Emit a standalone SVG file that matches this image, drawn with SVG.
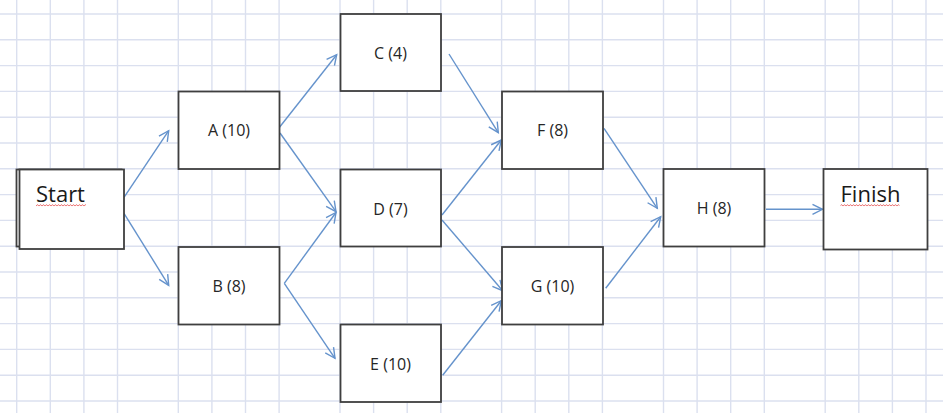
<svg xmlns="http://www.w3.org/2000/svg" width="943" height="413" viewBox="0 0 943 413">
  <style>
    .grid line { stroke: #dbe0ef; stroke-width: 1.4; }
    .box { fill: #ffffff; stroke: #3f3f3f; stroke-width: 1.8; }
    .lbl { font-family: "Open Sans", "Liberation Sans", sans-serif; font-size: 16px; fill: #262626; text-anchor: middle; }
    .big { font-family: "Open Sans", "Liberation Sans", sans-serif; font-size: 22px; fill: #1a1a1a; }
    .conn line { stroke: #6593cc; stroke-width: 1.4; fill: none; marker-end: url(#arr); }
  </style>
  <defs>
    <marker id="arr" markerUnits="userSpaceOnUse" markerWidth="14" markerHeight="14" viewBox="-12 -7 14 14" refX="0" refY="0" orient="auto">
      <path d="M-10,-5 L0,0 L-10,5" fill="none" stroke="#6593cc" stroke-width="1.4"/>
    </marker>
    <pattern id="squig" patternUnits="userSpaceOnUse" x="0" y="204" width="3" height="3">
      <path d="M0,2.2 L1.5,0.6 L3,2.2" fill="none" stroke="#e02a2a" stroke-width="0.7"/>
    </pattern>
  </defs>
  <rect x="0" y="0" width="943" height="413" fill="#ffffff"/>
  <g class="grid">
    <line x1="16.7" y1="0" x2="16.7" y2="413"/>
    <line x1="50.3" y1="0" x2="50.3" y2="413"/>
    <line x1="83.9" y1="0" x2="83.9" y2="413"/>
    <line x1="117.5" y1="0" x2="117.5" y2="413"/>
    <line x1="178.3" y1="0" x2="178.3" y2="413"/>
    <line x1="211.9" y1="0" x2="211.9" y2="413"/>
    <line x1="245.5" y1="0" x2="245.5" y2="413"/>
    <line x1="279.1" y1="0" x2="279.1" y2="413"/>
    <line x1="340" y1="0" x2="340" y2="413"/>
    <line x1="373.6" y1="0" x2="373.6" y2="413"/>
    <line x1="407.2" y1="0" x2="407.2" y2="413"/>
    <line x1="440.8" y1="0" x2="440.8" y2="413"/>
    <line x1="501.6" y1="0" x2="501.6" y2="413"/>
    <line x1="535.2" y1="0" x2="535.2" y2="413"/>
    <line x1="568.8" y1="0" x2="568.8" y2="413"/>
    <line x1="602.4" y1="0" x2="602.4" y2="413"/>
    <line x1="663.5" y1="0" x2="663.5" y2="413"/>
    <line x1="697.1" y1="0" x2="697.1" y2="413"/>
    <line x1="730.7" y1="0" x2="730.7" y2="413"/>
    <line x1="764.3" y1="0" x2="764.3" y2="413"/>
    <line x1="825.2" y1="0" x2="825.2" y2="413"/>
    <line x1="858.8" y1="0" x2="858.8" y2="413"/>
    <line x1="892.4" y1="0" x2="892.4" y2="413"/>
    <line x1="926" y1="0" x2="926" y2="413"/>
    <line x1="0" y1="14" x2="943" y2="14"/>
    <line x1="0" y1="39.8" x2="943" y2="39.8"/>
    <line x1="0" y1="65.6" x2="943" y2="65.6"/>
    <line x1="0" y1="91.4" x2="943" y2="91.4"/>
    <line x1="0" y1="117.2" x2="943" y2="117.2"/>
    <line x1="0" y1="143" x2="943" y2="143"/>
    <line x1="0" y1="168.8" x2="943" y2="168.8"/>
    <line x1="0" y1="194.6" x2="943" y2="194.6"/>
    <line x1="0" y1="220.4" x2="943" y2="220.4"/>
    <line x1="0" y1="246.2" x2="943" y2="246.2"/>
    <line x1="0" y1="272" x2="943" y2="272"/>
    <line x1="0" y1="297.8" x2="943" y2="297.8"/>
    <line x1="0" y1="323.6" x2="943" y2="323.6"/>
    <line x1="0" y1="349.4" x2="943" y2="349.4"/>
    <line x1="0" y1="375.2" x2="943" y2="375.2"/>
    <line x1="0" y1="401" x2="943" y2="401"/>
  </g>

  <g class="conn" id="connectors">
    <line x1="124" y1="197.3" x2="168.7" y2="130.7"/>
    <line x1="124" y1="213.3" x2="168.7" y2="285.3"/>
    <line x1="279.5" y1="127.3" x2="336.7" y2="54.7"/>
    <line x1="280" y1="133" x2="336" y2="211.7"/>
    <line x1="284.3" y1="283.3" x2="336" y2="212.5"/>
    <line x1="284.3" y1="283.3" x2="335" y2="358.3"/>
    <line x1="449" y1="54" x2="498.3" y2="132.7"/>
    <line x1="442" y1="215" x2="501.3" y2="140"/>
    <line x1="442" y1="220" x2="502.7" y2="290.7"/>
    <line x1="442.7" y1="375.3" x2="501.3" y2="300.7"/>
    <line x1="604" y1="128.3" x2="657.3" y2="208.3"/>
    <line x1="605.7" y1="288.3" x2="660.7" y2="216.7"/>
    <line x1="766" y1="209.3" x2="822.5" y2="209.3"/>
  </g>

  <g id="start">
    <rect class="box" x="16.5" y="169.5" width="105" height="77"/>
    <rect class="box" x="19.5" y="169.5" width="104.5" height="79.5"/>
    <text class="big" x="36" y="201.5">Start</text>
    <rect x="36" y="204" width="50" height="3" fill="url(#squig)"/>
  </g>
  <g id="A">
    <rect class="box" x="178.5" y="91.5" width="101" height="77.5"/>
    <text class="lbl" x="229" y="136">A (10)</text>
  </g>
  <g id="B">
    <rect class="box" x="178.5" y="247" width="101" height="77.5"/>
    <text class="lbl" x="229" y="291.5">B (8)</text>
  </g>
  <g id="C">
    <rect class="box" x="340.5" y="14" width="100.5" height="77"/>
    <text class="lbl" x="390.5" y="59">C (4)</text>
  </g>
  <g id="D">
    <rect class="box" x="340.5" y="169.5" width="100.5" height="77"/>
    <text class="lbl" x="390.5" y="214.5">D (7)</text>
  </g>
  <g id="E">
    <rect class="box" x="340.5" y="324.5" width="100.5" height="77.5"/>
    <text class="lbl" x="390.5" y="369.5">E (10)</text>
  </g>
  <g id="F">
    <rect class="box" x="502" y="91.5" width="101" height="77.5"/>
    <text class="lbl" x="552.5" y="136">F (8)</text>
  </g>
  <g id="G">
    <rect class="box" x="502" y="247" width="101" height="77.5"/>
    <text class="lbl" x="552.5" y="291.5">G (10)</text>
  </g>
  <g id="H">
    <rect class="box" x="663.5" y="169" width="101" height="77.5"/>
    <text class="lbl" x="714" y="214">H (8)</text>
  </g>
  <g id="finish">
    <rect class="box" x="823.5" y="169" width="104" height="80.5"/>
    <text class="big" x="840.5" y="201.5">Finish</text>
    <rect x="840.5" y="204" width="59" height="3" fill="url(#squig)"/>
  </g>
</svg>
